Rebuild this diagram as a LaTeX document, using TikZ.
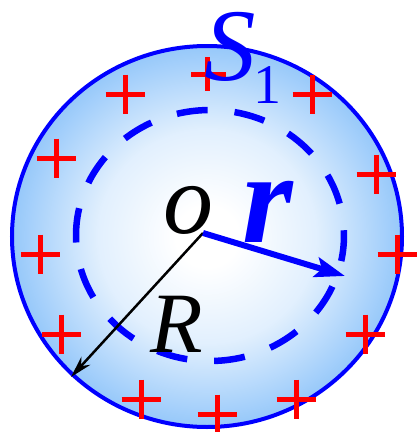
\documentclass[tikz,border=0pt]{standalone}
\usepackage{fontspec}
\setmainfont{Liberation Serif}
\usetikzlibrary{arrows.meta}
\definecolor{edgeblue}{RGB}{0,0,255}
\definecolor{fillblue}{RGB}{150,200,250}
\definecolor{plusred}{RGB}{255,0,0}
\pgfdeclareradialshading{spherefill}{\pgfpointorigin}{color(0bp)=(white); color(4bp)=(white); color(14bp)=(white!72!fillblue); color(25bp)=(fillblue); color(50bp)=(fillblue)}
\tikzset{
  plussign/.style={draw=plusred, line width=5pt},
  lbl/.style={inner sep=0pt, anchor=base west},
}
\begin{document}
\begin{tikzpicture}[x=1pt,y=-1pt]
\useasboundingbox (0,0) rectangle (418,432);
% sphere
\shade[shading=spherefill] (207,236.5) ellipse [x radius=195, y radius=190.5];
\draw[edgeblue, line width=4pt] (207,236.5) ellipse [x radius=195, y radius=190.5];
% Gaussian surface
\draw[edgeblue, line width=6.5pt, dash pattern=on 31pt off 27pt]
  (210,235.5) ++(178.4:134 and 125.5) arc[start angle=178.4, end angle=538.4, x radius=134, y radius=125.5];
% charges
\foreach \p/\q in {125/94, 312/94, 56/158, 376/174, 40/254, 397/254, 61/334, 365/334, 141/399, 217/414, 296/399}{
  \draw[plussign] (\p-19.5,\q) -- (\p+19.5,\q) (\p,\q-19.5) -- (\p,\q+19.5);
}
\draw[plussign] (191,74) -- (226,74) (207.5,57) -- (207.5,91);
% center and radii
\coordinate (O) at (203,233);
\coordinate (Rend) at (71,377);
\coordinate (rend) at (345,276);
\draw[black, line width=2.5pt, -{Stealth[length=22pt,width=12pt]}] (O) -- (Rend);
\draw[edgeblue, line width=6pt, -{Stealth[length=30pt,width=20pt,inset=6pt]}] (O) -- (rend);
% labels
\node[lbl, text=edgeblue, font=\fontsize{103}{103}\selectfont\itshape] (S) at (204,80) {S};
\node[lbl, text=edgeblue, font=\fontsize{56}{56}\selectfont] (one) at (253,103) {1};
\node[lbl, font=\fontsize{100}{100}\selectfont\itshape] (o) at (163,233) {o};
\node[lbl, text=edgeblue, font=\fontsize{130}{130}\selectfont\bfseries\itshape] (r) at (242,242) {r};
\node[lbl, font=\fontsize{86}{86}\selectfont\itshape] (R) at (150,352) {R};
\end{tikzpicture}
\end{document}
